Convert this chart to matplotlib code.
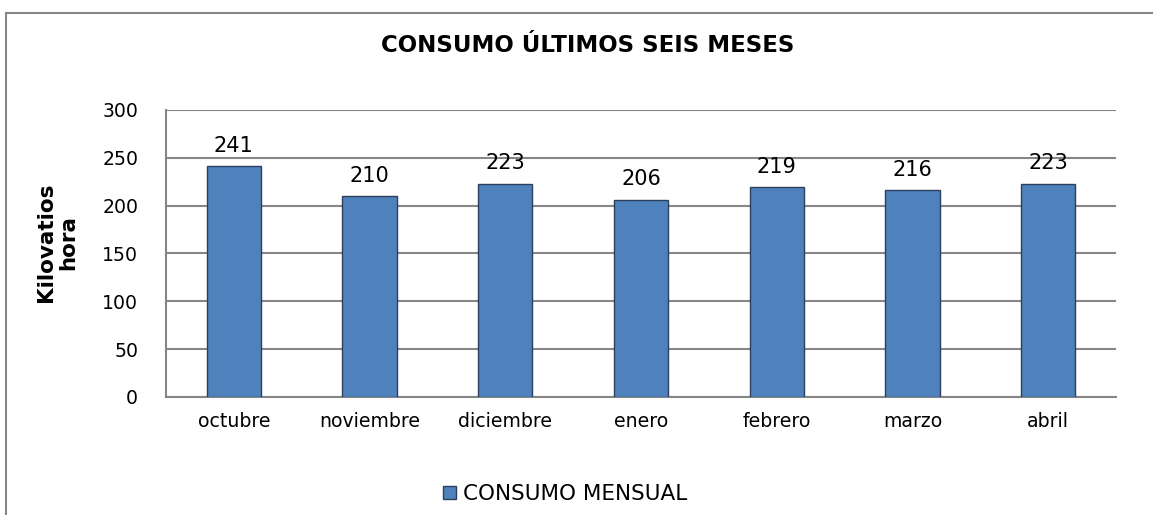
import matplotlib.pyplot as plt
from matplotlib.lines import Line2D
from matplotlib.patches import Patch

plt.rcParams['font.family'] = ['DejaVu Sans']

meses = ['octubre', 'noviembre', 'diciembre', 'enero', 'febrero', 'marzo', 'abril']
consumo = [241, 210, 223, 206, 219, 216, 223]
yticks = [0, 50, 100, 150, 200, 250, 300]

W, H = 1153, 515
fig = plt.figure(figsize=(W / 100, H / 100), dpi=100)

# marco exterior (solo se ven borde izquierdo y superior)
fig.add_artist(Line2D([6 / W, 6 / W], [0, 1 - 13 / H], color='#868686', lw=1.5))
fig.add_artist(Line2D([6 / W, 1], [1 - 13 / H, 1 - 13 / H], color='#868686', lw=1.5))

ax = fig.add_axes([166 / W, 1 - 397 / H, 950 / W, 287 / H])
x = range(len(meses))
barras = ax.bar(x, consumo, width=0.4, color='#4F81BD', edgecolor='#2B3F5C',
                linewidth=1, zorder=3)
for b, v in zip(barras, consumo):
    ax.text(b.get_x() + b.get_width() / 2, v + 11, str(v), ha='center', va='bottom',
            fontsize=15, color='black')

ax.set_xlim(-0.5, len(meses) - 0.5)
ax.set_ylim(0, 300)
ax.set_yticks(yticks)
ax.set_xticks(list(x))
ax.set_xticklabels(meses)
ax.tick_params(axis='both', length=0, labelsize=13.6, colors='black')
ax.tick_params(axis='y', pad=20)
ax.tick_params(axis='x', pad=11)
ax.yaxis.grid(True, color='#868686', lw=1.5, zorder=0)
for s in ['top', 'right']:
    ax.spines[s].set_visible(False)
ax.spines['left'].set_color('#868686')
ax.spines['left'].set_linewidth(1.5)
ax.spines['bottom'].set_color('#868686')
ax.spines['bottom'].set_linewidth(1.5)

# titulo del eje y
fig.text(57 / W, 1 - 242 / H, 'Kilovatios\nhora', rotation=90, ha='center', va='center',
         fontsize=15.5, fontweight='bold', linespacing=1.15, multialignment='center')

fig.text(588 / W, 1 - 45 / H, 'CONSUMO ÚLTIMOS SEIS MESES', ha='center', va='center',
         fontsize=16.5, fontweight='bold')

fig.legend(handles=[Patch(facecolor='#4F81BD', edgecolor='#2B3F5C', lw=1)],
           labels=['CONSUMO MENSUAL'], loc='center', bbox_to_anchor=(565 / W, 1 - 494 / H),
           frameon=False, fontsize=15.5, handlelength=0.6, handleheight=0.6,
           handletextpad=0.3)

fig.savefig('out.png', dpi=100)
